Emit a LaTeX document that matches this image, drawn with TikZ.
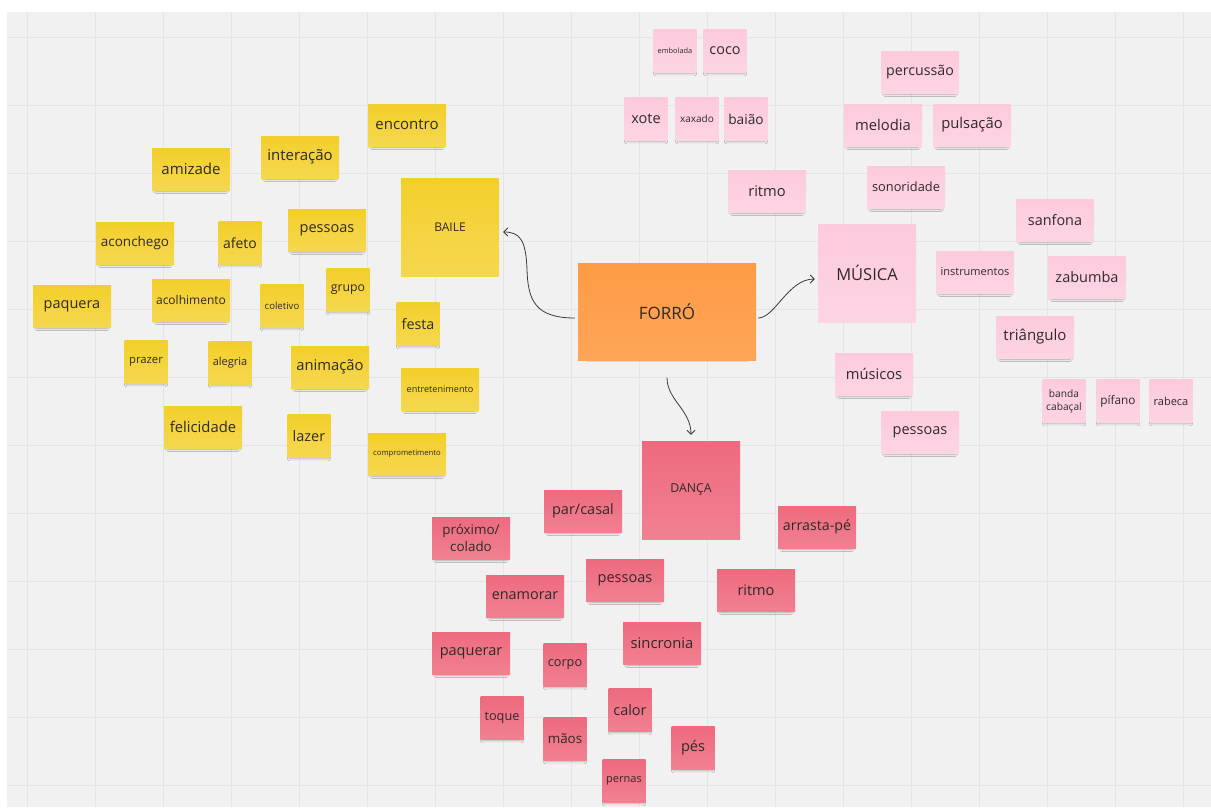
\documentclass[tikz,border=0pt]{standalone}
\usepackage{fontspec}
\setmainfont{Open Sans}
\usetikzlibrary{arrows.meta,shadows.blur}
\definecolor{bgc}{HTML}{F1F1F1}
\definecolor{gridc}{HTML}{E4E4E4}
\definecolor{yel}{HTML}{F3CF2A}
\definecolor{pnk}{HTML}{FDCADD}
\definecolor{rosa}{HTML}{EE6A7E}
\definecolor{org}{HTML}{FE9B45}
\definecolor{ink}{HTML}{2E2A2A}
\definecolor{linec}{HTML}{3A3A3A}
% font size, and font size with its own baseline skip
\newcommand\fz[1]{\fontsize{#1}{18}\selectfont}
\newcommand\fzl[2]{\fontsize{#1}{#2}\selectfont}

\begin{document}
\begin{tikzpicture}[x=1pt,y=-1pt,
  note/.style={inner sep=0pt,text=ink,align=center,
    blur shadow={shadow xshift=0pt,shadow yshift=-3.5pt,shadow scale=0.9,
      shadow blur radius=2.5pt,shadow opacity=30}},
  wide/.style={minimum width=78pt,minimum height=42pt},
  sq/.style={minimum width=43pt,minimum height=43pt},
  big/.style={minimum width=98pt,minimum height=98pt},
  yn/.style={note,top color=yel,bottom color=yel!82!white},
  pn/.style={note,top color=pnk,bottom color=pnk!80!white},
  rn/.style={note,top color=rosa,bottom color=rosa!85!white},
  on/.style={note,top color=org,bottom color=org!90!white},
  link/.style={draw=linec,line width=0.8pt,-{Straight Barb[length=4pt,width=8pt]}}]

\useasboundingbox (0,0) rectangle (1211,807);
% board with grid
\fill[white] (0,0) rectangle (1211,807);
\fill[bgc] (7,12) rectangle (1211,807);
\foreach \i in {0,...,17} \draw[gridc,line width=1pt] (27+68*\i,12) -- (27+68*\i,807);
\foreach \j in {0,...,11} \draw[gridc,line width=1pt] (7,37+68*\j) -- (1211,37+68*\j);

% centre
\node[on,minimum width=178pt,minimum height=97pt,font=\fz{17}] (forro) at (667,312) {FORRÓ};

% BAILE cluster
\node[yn,big,font=\fz{12}] (baile) at (450,227) {BAILE};
\node[yn,wide,font=\fz{15}] (encontro) at (407,125) {encontro};
\node[yn,wide,font=\fz{15}] (amizade) at (191,169) {amizade};
\node[yn,wide,font=\fz{15}] (interacao) at (300,157) {interação};
\node[yn,wide,font=\fz{13.5}] (aconchego) at (135,243) {aconchego};
\node[yn,sq,font=\fz{14}] (afeto) at (240,243) {afeto};
\node[yn,wide,font=\fz{14.5}] (pessoasB) at (327,230) {pessoas};
\node[yn,wide,font=\fz{14.5}] (paquera) at (72,306) {paquera};
\node[yn,wide,font=\fz{12}] (acolhimento) at (191,300) {acolhimento};
\node[yn,sq,font=\fz{9.6}] (coletivo) at (282,306) {coletivo};
\node[yn,sq,font=\fz{12.3}] (grupo) at (348,290) {grupo};
\node[yn,sq,font=\fz{14.3}] (festa) at (418,324) {festa};
\node[yn,sq,font=\fz{11.3}] (prazer) at (146,362) {prazer};
\node[yn,sq,font=\fz{11}] (alegria) at (230,363) {alegria};
\node[yn,wide,font=\fz{14.8}] (animacao) at (330,367) {animação};
\node[yn,wide,font=\fz{9.1}] (entretenimento) at (440,389) {entretenimento};
\node[yn,wide,font=\fz{14.8}] (felicidade) at (203,427) {felicidade};
\node[yn,sq,font=\fz{14.5}] (lazer) at (309,436) {lazer};
\node[yn,wide,font=\fz{7.7}] (comprometimento) at (407,454) {comprometimento};

% MÚSICA cluster
\node[pn,big,font=\fz{16.5}] (musica) at (867,273) {MÚSICA};
\node[pn,sq,font=\fz{7.4}] (embolada) at (675,51) {embolada};
\node[pn,sq,font=\fz{14.4}] (coco) at (725,51) {coco};
\node[pn,sq,font=\fz{14.5}] (xote) at (646,119) {xote};
\node[pn,sq,font=\fz{10}] (xaxado) at (697,119) {xaxado};
\node[pn,sq,font=\fz{13.7}] (baiao) at (746,119) {baião};
\node[pn,wide,font=\fz{14.7}] (ritmoM) at (767,191) {ritmo};
\node[pn,wide,font=\fz{14.2}] (percussao) at (920,72) {percussão};
\node[pn,wide,font=\fz{14.8}] (melodia) at (883,125) {melodia};
\node[pn,wide,font=\fz{14.8}] (pulsacao) at (972,125) {pulsação};
\node[pn,wide,font=\fz{12.8}] (sonoridade) at (906,187) {sonoridade};
\node[pn,wide,font=\fz{14.4}] (sanfona) at (1055,220) {sanfona};
\node[pn,wide,font=\fz{11}] (instrumentos) at (975,272) {instrumentos};
\node[pn,wide,font=\fz{14.5}] (zabumba) at (1087,277) {zabumba};
\node[pn,wide,font=\fz{15}] (triangulo) at (1035,337) {triângulo};
\node[pn,wide,font=\fz{14.7}] (musicos) at (874,374) {músicos};
\node[pn,wide,font=\fz{14.5}] (pessoasM) at (920,432) {pessoas};
\node[pn,sq,font=\fzl{10.2}{13}] (banda) at (1064,401) {banda\\cabaçal};
\node[pn,sq,font=\fz{11.8}] (pifano) at (1118,401) {pífano};
\node[pn,sq,font=\fz{11}] (rabeca) at (1171,401) {rabeca};

% DANÇA cluster
\node[rn,big,font=\fz{12.3}] (danca) at (691,490) {DANÇA};
\node[rn,wide,font=\fz{14.5}] (parcasal) at (583,511) {par/casal};
\node[rn,wide,font=\fzl{13.4}{17}] (proximo) at (471,538) {próximo/\\colado};
\node[rn,wide,font=\fz{14.2}] (arrasta) at (817,527) {arrasta-pé};
\node[rn,wide,font=\fz{14.4}] (enamorar) at (525,596) {enamorar};
\node[rn,wide,font=\fz{14.5}] (pessoasD) at (625,580) {pessoas};
\node[rn,wide,font=\fz{14.5}] (ritmoD) at (756,590) {ritmo};
\node[rn,wide,font=\fz{14.5}] (paquerar) at (471,653) {paquerar};
\node[rn,sq,font=\fz{12.7}] (corpo) at (565,665) {corpo};
\node[rn,wide,font=\fz{14.8}] (sincronia) at (662,643) {sincronia};
\node[rn,sq,font=\fz{12.7}] (toque) at (502,718) {toque};
\node[rn,sq,font=\fz{14.5}] (calor) at (630,710) {calor};
\node[rn,sq,font=\fz{13.4}] (maos) at (565,739) {mãos};
\node[rn,sq,font=\fz{14.5}] (pes) at (693,748) {pés};
\node[rn,sq,font=\fz{11}] (pernas) at (624,781) {pernas};

% connectors from the centre
\draw[link] ([xshift=-3pt,yshift=-6pt]forro.west)
  .. controls (535,318) and (528,300) .. (527,270)
  .. controls (526,240) and (520,232) .. ([xshift=4pt,yshift=-5pt]baile.east);
\draw[link] ([xshift=2pt,yshift=-6pt]forro.east)
  .. controls (775,318) and (788,279) .. ([xshift=-3pt,yshift=-6pt]musica.west);
\draw[link] ([yshift=-17pt]forro.south)
  .. controls (667,400) and (691,410) .. ([yshift=6pt]danca.north);
\end{tikzpicture}
\end{document}
